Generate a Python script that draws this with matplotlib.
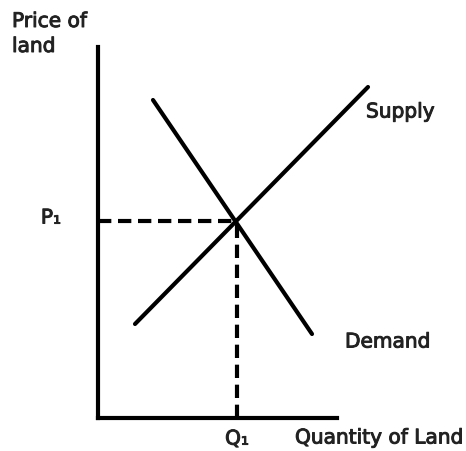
import matplotlib
matplotlib.use("Agg")
import matplotlib.pyplot as plt
import matplotlib.patheffects as pe

# land market: supply and demand lines (quantity, price)
supply_q = [37, 270]
supply_p = [94, 331]
demand_q = [55, 214]
demand_p = [318, 84]

# equilibrium
q1 = 139
p1 = 197

x_max = 239
y_max = 371

fig = plt.figure(figsize=(4.66, 4.52), dpi=100)
ax = fig.add_axes([98 / 466, 33 / 452, 239 / 466, 371 / 452])
ax.set_xlim(0, x_max)
ax.set_ylim(0, y_max)
for side in ["top", "right"]:
    ax.spines[side].set_visible(False)
for side in ["left", "bottom"]:
    ax.spines[side].set_linewidth(3)
    ax.spines[side].set_color("black")
ax.set_xticks([])
ax.set_yticks([])

ax.plot(supply_q, supply_p, color="black", lw=3, solid_capstyle="round", clip_on=False)
ax.plot(demand_q, demand_p, color="black", lw=3, solid_capstyle="round", clip_on=False)

# dashed guides to the axes
dash = dict(color="black", lw=3, linestyle=(0, (3.2, 1.6)), clip_on=False)
ax.plot([0, q1], [p1, p1], **dash)
ax.plot([q1, q1], [0, p1], **dash)

# slightly heavier strokes for the labels
thick = [pe.withStroke(linewidth=0.7, foreground="#222222")]
font = dict(family="DejaVu Sans", fontsize=14.5, color="#222222", clip_on=False,
            path_effects=thick)
ax.text(-86, 406, "Price of\nland", ha="left", va="top", linespacing=1.4, **font)
ax.text(-47, p1 + 3, "P₁", ha="center", va="center", **font)
ax.text(q1, -21, "Q₁", ha="center", va="center", **font)
ax.text(197, -20, "Quantity of Land", ha="left", va="center", **font)
ax.text(268, 306, "Supply", ha="left", va="center", **font)
ax.text(247, 76, "Demand", ha="left", va="center", **font)

fig.savefig("out.png", dpi=100)
plt.close(fig)
